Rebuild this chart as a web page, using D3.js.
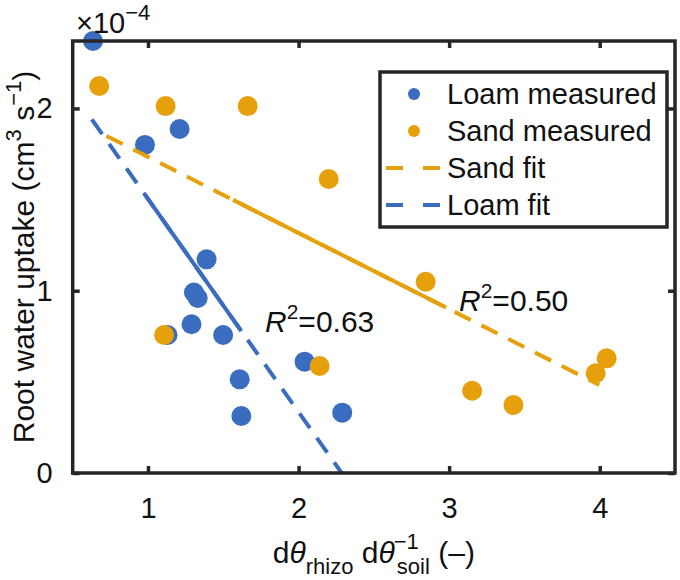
<!DOCTYPE html>
<html>
<head>
<meta charset="utf-8">
<script src="https://cdn.jsdelivr.net/npm/d3@7"></script>
<style>
  body { margin: 0; background: #fff; }
  text { font-family: "Liberation Sans", Arial, Helvetica, sans-serif; fill: #111; }
</style>
</head>
<body>
<div id="chart"></div>
<script>
// Root water uptake vs d(theta_rhizo)/d(theta_soil), values in 1e-4 cm3 s-1

// ----- data -----
const loamX = [0.635, 0.98, 1.21, 1.389, 1.305, 1.33, 1.289, 1.499, 1.13, 2.04, 1.609, 1.62, 2.29];
const loamY = [2.37, 1.80, 1.887, 1.172, 0.99, 0.96, 0.816, 0.757, 0.757, 0.611, 0.514, 0.313, 0.331];

const sandX = [0.676, 1.117, 1.662, 2.2, 2.844, 3.153, 3.427, 4.046, 3.973, 1.107, 2.14];
const sandY = [2.123, 2.013, 2.013, 1.613, 1.049, 0.451, 0.373, 0.629, 0.547, 0.757, 0.587];

// fit lines: end points and the solid middle part
const loamFitX = [0.627, 2.286];
const loamFitY = [1.94, 0];
const loamSolidX = [0.98, 1.62];
const sandFitX = [0.725, 3.997];
const sandFitY = [1.849, 0.483];
const sandSolidX = [1.565, 2.98];

const xTicks = [1, 2, 3, 4];
const yTicks = [0, 1, 2];
const legendLabels = ["Loam measured", "Sand measured", "Sand fit", "Loam fit"];

const blue = "#3A6DC0";
const orange = "#E6A00C";
const axisColor = "#262626";

// ----- layout -----
const W = 680, H = 580;
const pLeft = 72.7, pRight = 675, pTop = 41, pBottom = 473;

const svg = d3.select("#chart").append("svg")
  .attr("width", W)
  .attr("height", H);

const x = d3.scaleLinear().domain([0.5, 4.5]).range([pLeft, pRight]);
const y = d3.scaleLinear().domain([0, 2.37]).range([pBottom, pTop]);

// fit helpers
function lineAt(fx, fy, xv) {
  const t = (xv - fx[0]) / (fx[1] - fx[0]);
  return fy[0] + t * (fy[1] - fy[0]);
}

const fits = [
  { fx: sandFitX, fy: sandFitY, solid: sandSolidX, color: orange },
  { fx: loamFitX, fy: loamFitY, solid: loamSolidX, color: blue }
];

const plot = svg.append("g");

// points first (lines drawn over them)
plot.selectAll("circle.loam")
  .data(loamX.map((d, i) => [d, loamY[i]]))
  .enter().append("circle")
  .attr("class", "loam")
  .attr("cx", d => x(d[0]))
  .attr("cy", d => y(d[1]))
  .attr("r", 10)
  .attr("fill", blue);

plot.selectAll("circle.sand")
  .data(sandX.map((d, i) => [d, sandY[i]]))
  .enter().append("circle")
  .attr("class", "sand")
  .attr("cx", d => x(d[0]))
  .attr("cy", d => y(d[1]))
  .attr("r", 10)
  .attr("fill", orange);

fits.forEach(f => {
  plot.append("line")
    .attr("x1", x(f.fx[0])).attr("y1", y(f.fy[0]))
    .attr("x2", x(f.fx[1])).attr("y2", y(f.fy[1]))
    .attr("stroke", f.color)
    .attr("stroke-width", 4)
    .attr("stroke-dasharray", "18,12");
  plot.append("line")
    .attr("x1", x(f.solid[0])).attr("y1", y(lineAt(f.fx, f.fy, f.solid[0])))
    .attr("x2", x(f.solid[1])).attr("y2", y(lineAt(f.fx, f.fy, f.solid[1])))
    .attr("stroke", f.color)
    .attr("stroke-width", 4);
});

// ----- axes (box with inward ticks) -----
const axisG = svg.append("g");

axisG.append("g")
  .attr("transform", `translate(0,${pBottom})`)
  .call(d3.axisBottom(x).tickValues(xTicks).tickSizeInner(-7).tickSizeOuter(0).tickPadding(24).tickFormat(d3.format("d")))
  .call(g => g.select(".domain").remove());

axisG.append("g")
  .attr("transform", `translate(0,${pTop})`)
  .call(d3.axisTop(x).tickValues(xTicks).tickSizeInner(-7).tickSizeOuter(0).tickFormat(""))
  .call(g => g.select(".domain").remove());

axisG.append("g")
  .attr("transform", `translate(${pLeft},0)`)
  .call(d3.axisLeft(y).tickValues(yTicks).tickSizeInner(-7).tickSizeOuter(0).tickPadding(20).tickFormat(d3.format("d")))
  .call(g => g.select(".domain").remove());

axisG.append("g")
  .attr("transform", `translate(${pRight},0)`)
  .call(d3.axisRight(y).tickValues(yTicks).tickSizeInner(-7).tickSizeOuter(0).tickFormat(""))
  .call(g => g.select(".domain").remove());

axisG.selectAll(".tick line")
  .attr("stroke", axisColor)
  .attr("stroke-width", 3.5);

axisG.selectAll(".tick text")
  .style("font-size", "29px")
  .style("font-family", "Liberation Sans, Arial, sans-serif")
  .attr("fill", "#111");

axisG.append("rect")
  .attr("x", pLeft).attr("y", pTop)
  .attr("width", pRight - pLeft).attr("height", pBottom - pTop)
  .attr("fill", "none")
  .attr("stroke", axisColor)
  .attr("stroke-width", 3.5);

// exponent label
const expo = svg.append("text")
  .attr("x", 76).attr("y", 33)
  .style("font-size", "29px");
expo.append("tspan").text("×10");
expo.append("tspan").attr("dy", -13).style("font-size", "22px").text("−4");

// axis labels
const yl = svg.append("text")
  .attr("transform", `translate(34,${(pTop + pBottom) / 2}) rotate(-90)`)
  .attr("text-anchor", "middle")
  .style("font-size", "30px");
yl.append("tspan").text("Root water uptake (cm");
yl.append("tspan").attr("dy", -13).style("font-size", "22px").text("3");
yl.append("tspan").attr("dy", 13).text(" s");
yl.append("tspan").attr("dy", -13).style("font-size", "22px").text("−1");
yl.append("tspan").attr("dy", 13).text(")");

const xl = svg.append("text")
  .attr("x", (pLeft + pRight) / 2).attr("y", 563)
  .attr("text-anchor", "middle")
  .style("font-size", "30px");
xl.append("tspan").text("d");
xl.append("tspan").style("font-style", "italic").text("θ");
xl.append("tspan").attr("dy", 11).style("font-size", "22px").text("rhizo");
xl.append("tspan").attr("dy", -11).text(" d");
xl.append("tspan").style("font-style", "italic").text("θ");
xl.append("tspan").attr("dy", -14).attr("dx", -1).style("font-size", "22px").text("−1");
xl.append("tspan").attr("dy", 25).attr("dx", -22).style("font-size", "22px").text("soil");
xl.append("tspan").attr("dy", -11).text(" (–)");

// R² labels
function r2(xp, yp, val) {
  const t = svg.append("text").attr("x", xp).attr("y", yp).style("font-size", "30px");
  t.append("tspan").style("font-style", "italic").text("R");
  t.append("tspan").attr("dy", -13).style("font-size", "21px").text("2");
  t.append("tspan").attr("dy", 13).text("=" + val);
}
r2(265, 332, "0.63");
r2(459, 311, "0.50");

// ----- legend -----
const leg = svg.append("g");
leg.append("rect")
  .attr("x", 380).attr("y", 72)
  .attr("width", 287).attr("height", 155)
  .attr("fill", "#fff")
  .attr("stroke", axisColor)
  .attr("stroke-width", 3.5);

const rowY = d3.scalePoint().domain(legendLabels).range([94, 205]);

leg.append("circle").attr("cx", 414).attr("cy", rowY(legendLabels[0])).attr("r", 6).attr("fill", blue);
leg.append("circle").attr("cx", 414).attr("cy", rowY(legendLabels[1])).attr("r", 6).attr("fill", orange);
[[legendLabels[2], orange], [legendLabels[3], blue]].forEach(([lab, c]) => {
  leg.append("line")
    .attr("x1", 386).attr("x2", 440)
    .attr("y1", rowY(lab)).attr("y2", rowY(lab))
    .attr("stroke", c).attr("stroke-width", 4)
    .attr("stroke-dasharray", "17,20");
});

leg.selectAll("text.lab")
  .data(legendLabels)
  .enter().append("text")
  .attr("class", "lab")
  .attr("x", 447)
  .attr("y", d => rowY(d) + 10)
  .style("font-size", "29px")
  .text(d => d);
</script>
</body>
</html>
